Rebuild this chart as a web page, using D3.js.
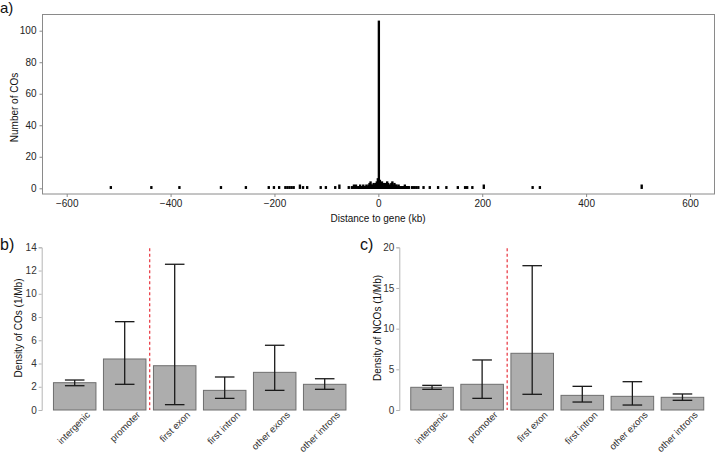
<!DOCTYPE html>
<html><head><meta charset="utf-8">
<script src="https://cdn.jsdelivr.net/npm/d3@7"></script>
<style>body{margin:0;background:#fff}svg{display:block}text{font-family:"Liberation Sans",Arial,sans-serif}</style>
</head><body><svg id="c" width="716" height="457"></svg>
<script>
// ---------- Panel a data: histogram of CO distance to gene (2 kb bins) ----------
const coBinStart = [-516,-438,-384,-304,-256,-212,-202,-192,-180,-176,-172,-168,-164,-152,-146,-138,-112,-102,-84,-76,-58,-52,-48,-44,
  -40,-38,-36,-34,-32,-30,-28,-26,-24,-22,-20,-18,-16,-14,-12,-10,-8,-6,-4,-2,0,2,4,6,8,10,12,14,16,18,20,22,24,26,28,30,32,34,36,38,40,42,44,46,48,50,52,54,56,58,
  64,68,72,76,86,98,114,130,152,166,170,180,202,296,310,506];
const coCount = [1,1,1,1,1,1,1,1,1,1,1,1,1,2,1,1,1,1,1,2,1,1,2,2,
  1,1,2,1,1,2,1,1,2,1,2,3,4,2,2,3,2,3,4,6,106,5,3,4,3,2,3,2,4,3,2,2,3,4,2,3,2,2,1,2,1,1,1,1,1,2,1,1,1,1,
  1,1,1,1,1,1,1,1,1,1,1,1,2,1,1,2];
const binWidth = 2;
const xTicksA = [-600,-400,-200,0,200,400,600];
const yTicksA = [0,20,40,60,80,100];

// ---------- Panels b and c data ----------
const categories = ["intergenic","promoter","first exon","first intron","other exons","other introns"];
const coDensity  = [2.35, 4.39, 3.81, 1.69, 3.24, 2.21];
const coLow      = [2.09, 2.21, 0.46, 1.00, 1.69, 1.78];
const coHigh     = [2.58, 7.60, 12.54, 2.84, 5.57, 2.69];
const ncoDensity = [2.79, 3.16, 6.97, 1.80, 1.68, 1.56];
const ncoLow     = [2.54, 1.43, 1.93, 0.98, 0.61, 1.19];
const ncoHigh    = [3.03, 6.15, 17.74, 2.91, 3.48, 1.97];
const yTicksB = [0,2,4,6,8,10,12,14];
const yTicksC = [0,5,10,15,20];

const svg = d3.select("#c");

// ---------------- Panel a ----------------
const xA = d3.scaleLinear().domain([-600,600]).range([66.7,690]);
const yA = d3.scaleLinear().domain([0,100]).range([188.3,30.7]);
const gA = svg.append("g");
gA.append("rect").attr("x",42.5).attr("y",14.5).attr("width",672).attr("height",179.5)
  .attr("fill","none").attr("stroke","#8a8a8a").attr("stroke-width",1);
const bins = coBinStart.map((s,i)=>({s, c: coCount[i]}));
gA.selectAll("rect.bin").data(bins).join("rect").attr("class","bin")
  .attr("x", d=>xA(d.s)).attr("width", d=>xA(d.s+binWidth)-xA(d.s))
  .attr("y", d=>yA(d.c)).attr("height", d=>yA(0)-yA(d.c))
  .attr("fill","#000").attr("stroke","#000").attr("stroke-width",1.3);
const axAx = d3.axisBottom(xA).tickValues(xTicksA).tickSize(3).tickPadding(3);
gA.append("g").attr("transform","translate(0,194)").call(axAx)
  .call(g=>{g.select(".domain").remove();g.selectAll("line").attr("stroke","#8a8a8a");
    g.selectAll("text").attr("font-size","10px").attr("fill","#222").attr("font-family","Liberation Sans, Arial, sans-serif");});
const axAy = d3.axisLeft(yA).tickValues(yTicksA).tickSize(3).tickPadding(3);
gA.append("g").attr("transform","translate(42.5,0)").call(axAy)
  .call(g=>{g.select(".domain").remove();g.selectAll("line").attr("stroke","#8a8a8a");
    g.selectAll("text").attr("font-size","10px").attr("fill","#222").attr("font-family","Liberation Sans, Arial, sans-serif");});
gA.append("text").attr("x",378).attr("y",222).attr("text-anchor","middle").attr("font-size","10px").attr("fill","#111").text("Distance to gene (kb)");
gA.append("text").attr("transform","translate(17.5,107.5) rotate(-90)").attr("text-anchor","middle").attr("font-size","10px").attr("fill","#111").text("Number of COs");
svg.append("text").attr("x",0).attr("y",13).attr("font-family","Lato, sans-serif").attr("font-size","15px").attr("fill","#111").text("a)");

// ---------------- Bar panels ----------------
function barPanel(opts){
  const g = svg.append("g");
  const x = d3.scaleBand().domain(categories).range(opts.xr).paddingInner(0.15).paddingOuter(0.075);
  const y = d3.scaleLinear().domain([0,opts.ymax]).range([410,247.3]);
  const data = categories.map((c,i)=>({c, v:opts.val[i], lo:opts.lo[i], hi:opts.hi[i]}));
  // y axis
  const ay = d3.axisLeft(y).tickValues(opts.ticks).tickSize(3).tickPadding(2);
  g.append("g").attr("transform",`translate(${opts.axisX},0)`).call(ay)
    .call(s=>{s.select(".domain").attr("stroke","#b5b5b5");s.selectAll("line").attr("stroke","#b5b5b5");
      s.selectAll("text").attr("font-size","10px").attr("fill","#333").attr("font-family","Liberation Sans, Arial, sans-serif");});
  // bars
  g.selectAll("rect.bar").data(data).join("rect").attr("class","bar")
    .attr("x",d=>x(d.c)).attr("width",x.bandwidth())
    .attr("y",d=>y(d.v)).attr("height",d=>y(0)-y(d.v))
    .attr("fill","#adadad").attr("stroke","#6e6e6e").attr("stroke-width",1);
  // error bars
  const cap = x.bandwidth()*0.23;
  const eb = g.selectAll("g.eb").data(data).join("g").attr("class","eb")
    .attr("transform",d=>`translate(${x(d.c)+x.bandwidth()/2},0)`);
  eb.append("line").attr("x1",0).attr("x2",0).attr("y1",d=>y(d.lo)).attr("y2",d=>y(d.hi));
  eb.append("line").attr("x1",-cap).attr("x2",cap).attr("y1",d=>y(d.hi)).attr("y2",d=>y(d.hi));
  eb.append("line").attr("x1",-cap).attr("x2",cap).attr("y1",d=>y(d.lo)).attr("y2",d=>y(d.lo));
  eb.selectAll("line").attr("stroke","#1a1a1a").attr("stroke-width",1.3);
  // red dashed separator
  const sepX = (x("promoter")+x.bandwidth()+x("first exon"))/2;
  g.append("line").attr("x1",sepX).attr("x2",sepX).attr("y1",y(opts.ymax)+1).attr("y2",y(0))
    .attr("stroke","#e8323c").attr("stroke-width",1.2).attr("stroke-dasharray","3,2.5");
  // category labels
  g.selectAll("text.cat").data(data).join("text").attr("class","cat")
    .attr("transform",d=>`translate(${x(d.c)+x.bandwidth()/2+16},415.5) rotate(-45)`)
    .attr("text-anchor","end").attr("font-size","9.5px").attr("fill","#333").text(d=>d.c);
  // y title
  g.append("text").attr("transform",`translate(${opts.titleX},328) rotate(-90)`).attr("text-anchor","middle")
    .attr("font-size","10px").attr("fill","#111").text(opts.title);
  svg.append("text").attr("x",opts.labX).attr("y",250).attr("font-family","Lato, sans-serif").attr("font-size","16px").attr("fill","#111").text(opts.lab);
}
barPanel({xr:[49.7,349.7], ymax:14, ticks:yTicksB, val:coDensity, lo:coLow, hi:coHigh, axisX:41.7, titleX:22, title:"Density of COs (1/Mb)", lab:"b)", labX:0});
barPanel({xr:[407,707.5], ymax:20, ticks:yTicksC, val:ncoDensity, lo:ncoLow, hi:ncoHigh, axisX:399.3, titleX:380.5, title:"Density of NCOs (1/Mb)", lab:"c)", labX:360});
</script></body></html>
